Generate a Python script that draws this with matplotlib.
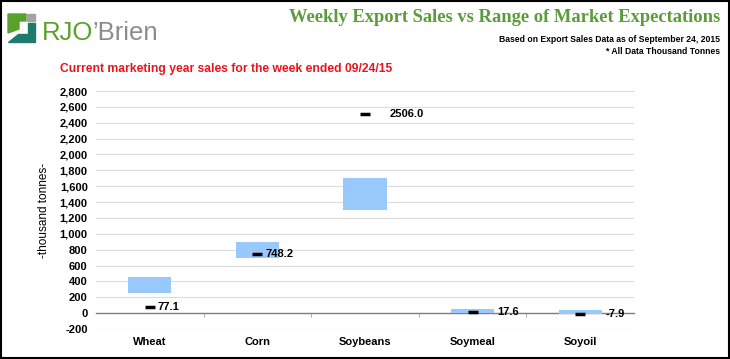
import matplotlib.pyplot as plt
from matplotlib.patches import Rectangle, Polygon
import numpy as np

# data
categories = ['Wheat', 'Corn', 'Soybeans', 'Soymeal', 'Soyoil']
range_low = [250, 700, 1300, 5, -5]
range_high = [450, 900, 1700, 50, 35]
actual = [77.1, 748.2, 2506.0, 17.6, -7.9]
actual_labels = ['77.1', '748.2', '2506.0', '17.6', '-7.9']
yticks = list(range(-200, 2801, 200))

# label offsets (points, right of the dash)
label_dx = [5.5, 5.5, 18, 18, 18]

green = '#5b9b3a'
bar_color = '#99c8fb'

fig = plt.figure(figsize=(7.3, 3.59), dpi=100)
fig.patch.set_facecolor('white')

ax = fig.add_axes([96/730, 1-329/359, 538/730, (329-91)/359])
x = np.arange(len(categories))

ax.bar(x, np.array(range_high) - np.array(range_low), bottom=range_low,
       width=0.4, color=bar_color, zorder=2)
ax.plot(x, actual, linestyle='none', marker='_', markersize=7, mew=2.5,
        color='black', zorder=3)
for xi, v, lab, dx in zip(x, actual, actual_labels, label_dx):
    ax.annotate(lab, (xi, v), xytext=(dx, 0), textcoords='offset points',
                va='center', ha='left', fontsize=8, fontweight='bold',
                family='Liberation Sans', zorder=4)

ax.set_ylim(-200, 2800)
ax.set_xlim(-0.5, len(categories) - 0.5)
ax.set_yticks(yticks)
ax.set_yticklabels([f'{t:,}' for t in yticks], fontsize=8, fontweight='bold',
                   family='Liberation Sans')
ax.tick_params(axis='y', length=0, pad=6)
ax.grid(axis='y', color='#dcdcdc', linewidth=0.8, zorder=0)
ax.set_axisbelow(True)

for s in ['top', 'right', 'left']:
    ax.spines[s].set_visible(False)
ax.spines['bottom'].set_position(('data', 0))
ax.spines['bottom'].set_color('#808080')
ax.spines['bottom'].set_linewidth(1.0)
ax.spines['bottom'].set_zorder(1)

ax.set_xticks(x)
ax.set_xticklabels(categories, fontsize=8, fontweight='bold', family='Liberation Sans')
ax.tick_params(axis='x', which='major', length=0, pad=17)
ax.set_xticks(np.arange(0.5, len(categories) - 0.5, 1), minor=True)
ax.tick_params(axis='x', which='minor', length=3, color='#a0a0a0', direction='out')

ax.set_ylabel('-thousand tonnes-', fontsize=8.5, family='Liberation Sans', labelpad=7)

# header texts
fig.text(720/730, 1-17/359, 'Weekly Export Sales vs Range of Market Expectations',
         ha='right', va='center', fontsize=13.3, fontweight='bold',
         family='Liberation Serif', color=green)
fig.text(720/730, 1-40/359, 'Based on Export Sales Data as of September 24, 2015',
         ha='right', va='center', fontsize=6.2, fontweight='bold', family='Liberation Sans')
fig.text(720/730, 1-52/359, '* All Data Thousand Tonnes',
         ha='right', va='center', fontsize=6.2, fontweight='bold', family='Liberation Sans')
fig.text(60/730, 1-69/359, 'Current marketing year sales for the week ended 09/24/15',
         ha='left', va='center', fontsize=8.7, fontweight='bold', family='Liberation Sans',
         color='#e8141e')

# logo
W, H = 730, 359
def pts(coords):
    return [(px / W, 1 - py / H) for px, py in coords]

fig.patches.append(Polygon(pts([(8, 14), (26, 14), (26, 21), (19, 21), (19, 29), (8, 33)]),
                           closed=True, transform=fig.transFigure, color='#5aa02c'))
fig.patches.append(Polygon(pts([(27, 14), (35, 14), (35, 21), (27, 21)]),
                           closed=True, transform=fig.transFigure, color='#a3a3a3'))
fig.patches.append(Polygon(pts([(8, 42), (35, 42), (35, 23), (28, 23), (28, 34), (18, 34)]),
                           closed=True, transform=fig.transFigure, color='#1f7a6e'))
t1 = fig.text(42/W, 1-40/H, 'RJO', ha='left', va='baseline', fontsize=18.5,
              family='Liberation Sans', color='#5aa02c')
plt.annotate("\u2019Brien", xy=(1, 0), xycoords=t1, xytext=(-1, 0),
             textcoords='offset points', ha='left', va='bottom', fontsize=18.5,
             family='Liberation Sans', color='#8c8c8c', annotation_clip=False)

# border
fig.patches.append(Rectangle((0.001, 0.002), 0.997, 0.995, transform=fig.transFigure,
                             fill=False, edgecolor='black', linewidth=1.5))

fig.savefig('out.png', dpi=100)
